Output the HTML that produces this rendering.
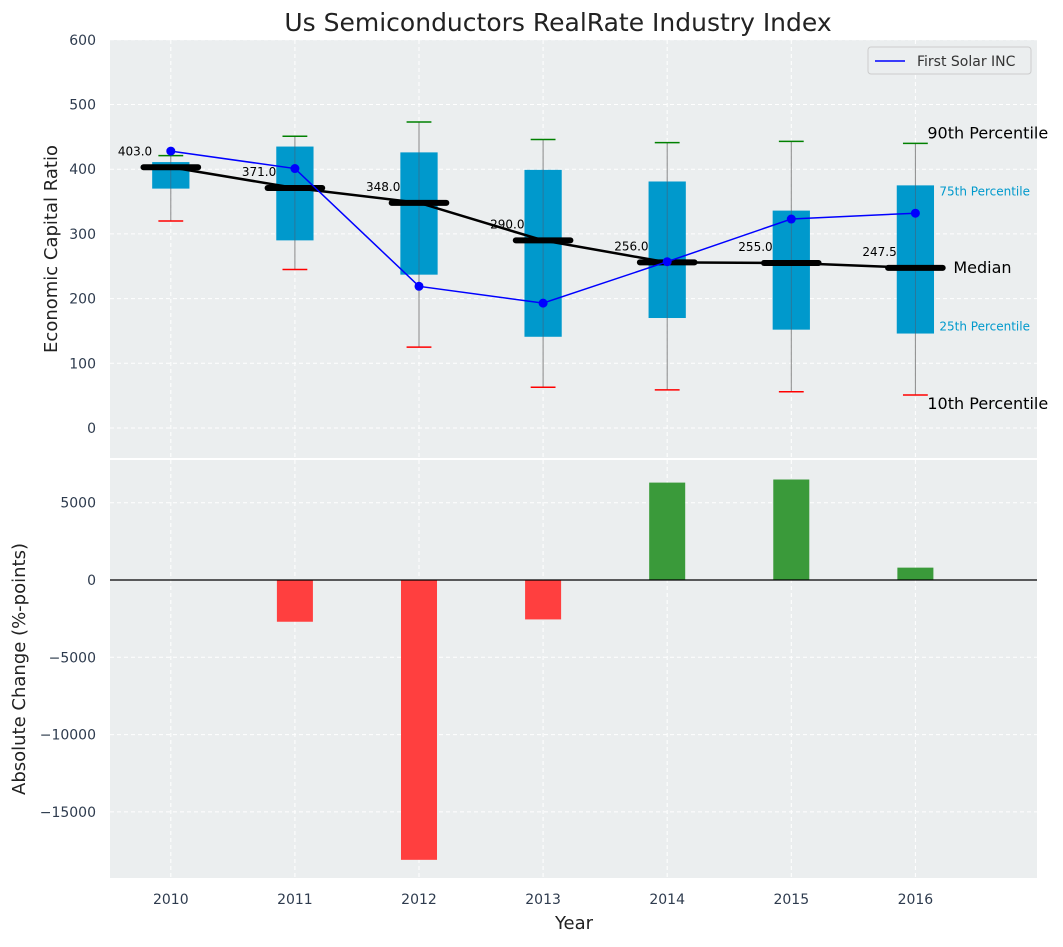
<!DOCTYPE html>
<html><head><meta charset="utf-8"><style>
body{margin:0;background:#fff;font-family:"Liberation Sans","DejaVu Sans",sans-serif}
</style></head><body>
<svg id="chart" width="1063" height="942" xmlns="http://www.w3.org/2000/svg" font-family="DejaVu Sans, Liberation Sans, sans-serif"></svg>
<script>
const years=["2010","2011","2012","2013","2014","2015","2016"];
const p10=[320,245,125,63,59,56,51];
const p25=[370,290,237,141,170,152,146];
const medians=[403,371,348,290,256,255,247.5];
const p75=[411,435,426,399,381,336,375];
const p90=[421,451,473,446,441,443,440];
const firstSolar=[428,401,219,193,257,323,332];
const changes=[0,-2700,-18100,-2550,6300,6500,800];
const topTicks=[0,100,200,300,400,500,600];
const botTicks=[-15000,-10000,-5000,0,5000];

const svg=document.getElementById('chart');
const NS='http://www.w3.org/2000/svg';
function el(tag,attrs,parent,text){const e=document.createElementNS(NS,tag);for(const k in attrs)e.setAttribute(k,attrs[k]);if(text!==undefined)e.textContent=text;(parent||svg).appendChild(e);return e;}
const L=110,R=1037;
const xs=i=>L+(i+0.49)/(7.47)*(R-L);
const yT=v=>428-v*0.647;
const yB=v=>580-v*77.3/5000;
const ux=124.2;
const tickCol='#2e3b4e';

let e;
e=el('rect',{x:L,y:40,width:R-L,height:418,fill:'#ebeeef'});


e=el('rect',{x:L,y:460,width:R-L,height:418,fill:'#ebeeef'});



years.forEach((y,i)=>{
 el('line',{x1:xs(i),x2:xs(i),y1:40,y2:458,stroke:'#fff','stroke-dasharray':'4,3'});
 el('line',{x1:xs(i),x2:xs(i),y1:460,y2:878,stroke:'#fff','stroke-dasharray':'4,3'});
 e=el('text',{x:xs(i),y:904,'text-anchor':'middle','font-size':14,fill:tickCol},null,y);
 
 
});
topTicks.forEach(t=>{
 el('line',{x1:L,x2:R,y1:yT(t),y2:yT(t),stroke:'#fff','stroke-dasharray':'4,3'});
 e=el('text',{x:96,y:yT(t)+5,'text-anchor':'end','font-size':14,fill:tickCol},null,String(t));
 
 
});
botTicks.forEach(t=>{
 el('line',{x1:L,x2:R,y1:yB(t),y2:yB(t),stroke:'#fff','stroke-dasharray':'4,3'});
 e=el('text',{x:96,y:yB(t)+5,'text-anchor':'end','font-size':14,fill:tickCol},null,t<0?'\u2212'+Math.abs(t):String(t));
 
 
});

years.forEach((y,i)=>{
 const x=xs(i);
 e=el('line',{x1:x,x2:x,y1:yT(p10[i]),y2:yT(p90[i]),stroke:'#888','stroke-width':1});
 
 
 e=el('rect',{x:x-0.15*ux,y:yT(p75[i]),width:0.3*ux,height:yT(p25[i])-yT(p75[i]),fill:'#0099cc'});
 
 
 el('line',{x1:x,x2:x,y1:yT(p75[i]),y2:yT(p25[i]),stroke:'#556','stroke-width':0.8,opacity:0.6});
 e=el('line',{x1:x-0.1*ux,x2:x+0.1*ux,y1:yT(p10[i]),y2:yT(p10[i]),stroke:'red','stroke-width':1.5});
 
 
 e=el('line',{x1:x-0.1*ux,x2:x+0.1*ux,y1:yT(p90[i]),y2:yT(p90[i]),stroke:'green','stroke-width':1.5});
 
 
});
e=el('polyline',{points:medians.map((m,i)=>xs(i)+','+yT(m)).join(' '),fill:'none',stroke:'#000','stroke-width':2.5});


years.forEach((y,i)=>{
 const x=xs(i);
 e=el('line',{x1:x-0.22*ux,x2:x+0.22*ux,y1:yT(medians[i]),y2:yT(medians[i]),stroke:'#000','stroke-width':6,'stroke-linecap':'round'});
 
 
 e=el('text',{x:x-0.15*ux,y:yT(medians[i])-12,'text-anchor':'end','font-size':12,fill:'#000'},null,medians[i].toFixed(1));
 
 
});
e=el('polyline',{points:firstSolar.map((v,i)=>xs(i)+','+yT(v)).join(' '),fill:'none',stroke:'blue','stroke-width':1.5});


firstSolar.forEach((v,i)=>{
 e=el('circle',{cx:xs(i),cy:yT(v),r:4.5,fill:'blue'});
 
 
});
const lx=xs(6);
[['90th Percentile',lx+12,yT(p90[6])-5,16,'#000'],['75th Percentile',lx+24,yT(p75[6])+10,12,'#0099cc'],['Median',lx+38,yT(medians[6])+5,16,'#000'],['25th Percentile',lx+24,yT(p25[6])-3,12,'#0099cc'],['10th Percentile',lx+12,yT(p10[6])+14,16,'#000']].forEach(a=>{
 e=el('text',{x:a[1],y:a[2],'font-size':a[3],fill:a[4]},null,a[0]);
 
 
});

changes.forEach((c,i)=>{
 if(c===0)return;
 const y0=yB(0),y1=yB(c);
 e=el('rect',{x:xs(i)-0.145*ux,y:Math.min(y0,y1),width:0.29*ux,height:Math.abs(y1-y0),fill:c>0?'#3a9a3a':'#ff3f3f'});
 
 
});
e=el('line',{x1:L,x2:R,y1:yB(0),y2:yB(0),stroke:'#000','stroke-width':1.2});



e=el('g',{});


el('rect',{x:868,y:47,width:163,height:27,rx:3,fill:'#ebeeef',stroke:'#ccc'},e);
el('line',{x1:875,x2:905,y1:61,y2:61,stroke:'blue','stroke-width':1.5},e);
el('text',{x:917,y:66,'font-size':14,fill:'#333'},e,'First Solar INC');

e=el('text',{x:558,y:31,'text-anchor':'middle','font-size':25,fill:'#222'},null,'Us Semiconductors RealRate Industry Index');


e=el('text',{x:574,y:929,'text-anchor':'middle','font-size':18,fill:'#222'},null,'Year');


e=el('text',{x:57,y:249,'text-anchor':'middle','font-size':18,fill:'#222',transform:'rotate(-90 57 249)'},null,'Economic Capital Ratio');


e=el('text',{x:25,y:669,'text-anchor':'middle','font-size':18,fill:'#222',transform:'rotate(-90 25 669)'},null,'Absolute Change (%-points)');


</script>
</body></html>
